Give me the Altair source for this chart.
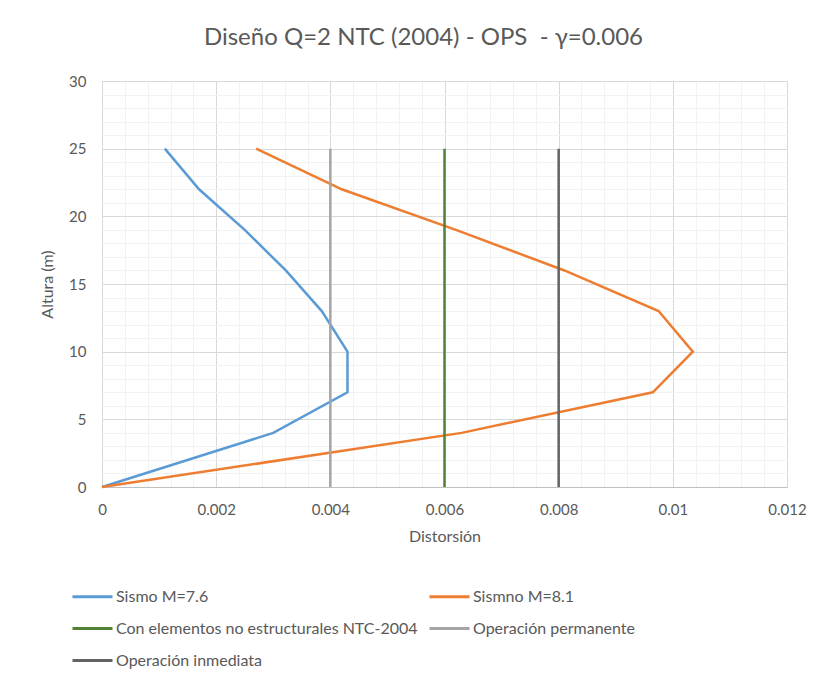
import altair as alt
import pandas as pd

# ---- data ----
alturas = [0, 4, 7, 10, 13, 16, 19, 22, 25]
sismo_76 = [0, 0.0030, 0.0043, 0.0043, 0.00385, 0.00322, 0.0025, 0.0017, 0.0011]
sismo_81 = [0, 0.0063, 0.00965, 0.01035, 0.00975, 0.0081, 0.0062, 0.0042, 0.0027]

limites_nombres = ["Con elementos no estructurales NTC-2004",
                   "Operación permanente",
                   "Operación inmediata"]
limites_valores = [0.006, 0.004, 0.008]
limite_alturas = [0, 25]

series_nombres = ["Sismo M=7.6", "Sismno M=8.1"]
orden_leyenda = ["Sismo M=7.6", "Sismno M=8.1",
                 "Con elementos no estructurales NTC-2004",
                 "Operación permanente", "Operación inmediata"]
colores = ["#5B9BD5", "#ED7D31", "#548235", "#A5A5A5", "#636363"]

x_ticks = [round(i * 0.0004, 4) for i in range(31)]
y_ticks = list(range(0, 31))

# ---- tables ----
rows = []
for name, vals in zip(series_nombres, [sismo_76, sismo_81]):
    for h, v in zip(alturas, vals):
        rows.append({"serie": name, "x": v, "y": h})
df_series = pd.DataFrame(rows)

rows = []
for name, v in zip(limites_nombres, limites_valores):
    for h in limite_alturas:
        rows.append({"serie": name, "x": v, "y": h})
df_lim = pd.DataFrame(rows)

FONT = "Lato"
TXT = "#595959"

x_axis = alt.Axis(
    values=x_ticks, tickCount=len(x_ticks), title="Distorsión", ticks=False,
    labelExpr="abs(datum.value*500 - round(datum.value*500)) < 1e-6 ? format(datum.value, '~g') : ''",
    labelOverlap=False, labelFlush=False,
    gridColor={"condition": {"test": "abs(datum.value*500 - round(datum.value*500)) < 1e-6",
                             "value": "#D9D9D9"}, "value": "#F2F2F2"},
    domainColor="#BFBFBF", labelPadding=15, titlePadding=11,
)
y_axis = alt.Axis(
    values=y_ticks, tickCount=len(y_ticks), title="Altura (m)", ticks=False,
    labelExpr="datum.value % 5 == 0 ? datum.label : ''",
    labelOverlap=False, labelFlush=False,
    gridColor={"condition": {"test": "datum.value % 5 == 0", "value": "#D9D9D9"},
               "value": "#F2F2F2"},
    domainColor="#D9D9D9", labelPadding=16, titlePadding=13,
)

x_scale = alt.Scale(domain=[0, 0.012], nice=False)
y_scale = alt.Scale(domain=[0, 30], nice=False)

color = alt.Color(
    "serie:N",
    scale=alt.Scale(domain=orden_leyenda, range=colores),
    sort=orden_leyenda,
    legend=alt.Legend(
        orient="none", legendX=-31, legendY=494, columns=2, direction="horizontal",
        title=None,
        symbolType="stroke", symbolSize=1600, symbolStrokeWidth=3,
        labelFont=FONT, labelFontSize=16, labelColor=TXT,
        rowPadding=2, columnPadding=5, labelOffset=2, labelLimit=400,
    ),
)

base_series = alt.Chart(df_series).mark_line(strokeWidth=2.5).encode(
    x=alt.X("x:Q", scale=x_scale, axis=x_axis),
    y=alt.Y("y:Q", scale=y_scale, axis=y_axis),
    color=color,
    order="y:Q",
)
base_lim = alt.Chart(df_lim).mark_line(strokeWidth=2.5).encode(
    x=alt.X("x:Q", scale=x_scale),
    y=alt.Y("y:Q", scale=y_scale),
    color=color,
    order="y:Q",
)

chart = alt.layer(base_series, base_lim).properties(
    width=685, height=406,
    autosize=alt.AutoSizeParams(type="none"),
    padding={"left": 94, "top": 73, "right": 22, "bottom": 186},
    title=alt.TitleParams(
        "Diseño Q=2 NTC (2004) - OPS \u00a0- γ=0.006",
        font=FONT, fontSize=24, fontWeight="normal", color=TXT,
        offset=24, dx=-21,
    ),
).configure_view(stroke=None).configure_axis(
    labelFont=FONT, labelFontSize=15, labelColor=TXT,
    titleFont=FONT, titleFontSize=16, titleColor=TXT, titleFontWeight="normal",
)

chart.save("out.html", embed_options={"renderer": "svg", "actions": False})
